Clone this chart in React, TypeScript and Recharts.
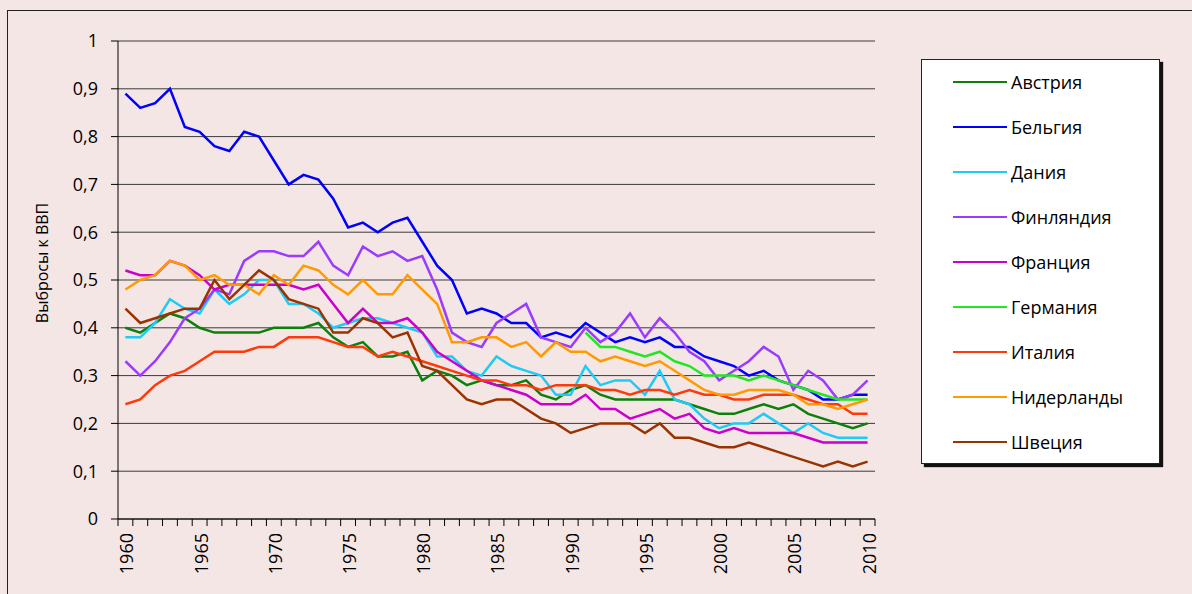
import React from 'react';
import { LineChart, Line, XAxis, YAxis, CartesianGrid, Legend } from 'recharts';

const years = [
  1960, 1961, 1962, 1963, 1964, 1965, 1966, 1967, 1968, 1969,
  1970, 1971, 1972, 1973, 1974, 1975, 1976, 1977, 1978, 1979,
  1980, 1981, 1982, 1983, 1984, 1985, 1986, 1987, 1988, 1989,
  1990, 1991, 1992, 1993, 1994, 1995, 1996, 1997, 1998, 1999,
  2000, 2001, 2002, 2003, 2004, 2005, 2006, 2007, 2008, 2009, 2010,
];

const austria = [
  0.40, 0.39, 0.41, 0.43, 0.42, 0.40, 0.39, 0.39, 0.39, 0.39,
  0.40, 0.40, 0.40, 0.41, 0.38, 0.36, 0.37, 0.34, 0.34, 0.35,
  0.29, 0.31, 0.30, 0.28, 0.29, 0.28, 0.28, 0.29, 0.26, 0.25,
  0.27, 0.28, 0.26, 0.25, 0.25, 0.25, 0.25, 0.25, 0.24, 0.23,
  0.22, 0.22, 0.23, 0.24, 0.23, 0.24, 0.22, 0.21, 0.20, 0.19, 0.20,
];
const belgium = [
  0.89, 0.86, 0.87, 0.90, 0.82, 0.81, 0.78, 0.77, 0.81, 0.80,
  0.75, 0.70, 0.72, 0.71, 0.67, 0.61, 0.62, 0.60, 0.62, 0.63,
  0.58, 0.53, 0.50, 0.43, 0.44, 0.43, 0.41, 0.41, 0.38, 0.39,
  0.38, 0.41, 0.39, 0.37, 0.38, 0.37, 0.38, 0.36, 0.36, 0.34,
  0.33, 0.32, 0.30, 0.31, 0.29, 0.28, 0.27, 0.25, 0.25, 0.26, 0.26,
];
const denmark = [
  0.38, 0.38, 0.41, 0.46, 0.44, 0.43, 0.48, 0.45, 0.47, 0.50,
  0.50, 0.45, 0.45, 0.43, 0.40, 0.41, 0.42, 0.42, 0.41, 0.40,
  0.39, 0.34, 0.34, 0.31, 0.30, 0.34, 0.32, 0.31, 0.30, 0.26,
  0.26, 0.32, 0.28, 0.29, 0.29, 0.26, 0.31, 0.25, 0.24, 0.21,
  0.19, 0.20, 0.20, 0.22, 0.20, 0.18, 0.20, 0.18, 0.17, 0.17, 0.17,
];
const finland = [
  0.33, 0.30, 0.33, 0.37, 0.42, 0.44, 0.48, 0.47, 0.54, 0.56,
  0.56, 0.55, 0.55, 0.58, 0.53, 0.51, 0.57, 0.55, 0.56, 0.54,
  0.55, 0.48, 0.39, 0.37, 0.36, 0.41, 0.43, 0.45, 0.38, 0.37,
  0.36, 0.40, 0.37, 0.39, 0.43, 0.38, 0.42, 0.39, 0.35, 0.33,
  0.29, 0.31, 0.33, 0.36, 0.34, 0.27, 0.31, 0.29, 0.25, 0.26, 0.29,
];
const france = [
  0.52, 0.51, 0.51, 0.54, 0.53, 0.51, 0.48, 0.49, 0.49, 0.49,
  0.49, 0.49, 0.48, 0.49, 0.45, 0.41, 0.44, 0.41, 0.41, 0.42,
  0.39, 0.35, 0.33, 0.31, 0.29, 0.28, 0.27, 0.26, 0.24, 0.24,
  0.24, 0.26, 0.23, 0.23, 0.21, 0.22, 0.23, 0.21, 0.22, 0.19,
  0.18, 0.19, 0.18, 0.18, 0.18, 0.18, 0.17, 0.16, 0.16, 0.16, 0.16,
];
const germany = [
  null, null, null, null, null, null, null, null, null, null,
  null, null, null, null, null, null, null, null, null, null,
  null, null, null, null, null, null, null, null, null, null,
  null, 0.39, 0.36, 0.36, 0.35, 0.34, 0.35, 0.33, 0.32, 0.30,
  0.30, 0.30, 0.29, 0.30, 0.29, 0.28, 0.27, 0.26, 0.25, 0.25, 0.25,
];
const italy = [
  0.24, 0.25, 0.28, 0.30, 0.31, 0.33, 0.35, 0.35, 0.35, 0.36,
  0.36, 0.38, 0.38, 0.38, 0.37, 0.36, 0.36, 0.34, 0.35, 0.34,
  0.33, 0.32, 0.31, 0.30, 0.29, 0.29, 0.28, 0.28, 0.27, 0.28,
  0.28, 0.28, 0.27, 0.27, 0.26, 0.27, 0.27, 0.26, 0.27, 0.26,
  0.26, 0.25, 0.25, 0.26, 0.26, 0.26, 0.25, 0.24, 0.24, 0.22, 0.22,
];
const netherlands = [
  0.48, 0.50, 0.51, 0.54, 0.53, 0.50, 0.51, 0.49, 0.49, 0.47,
  0.51, 0.49, 0.53, 0.52, 0.49, 0.47, 0.50, 0.47, 0.47, 0.51,
  0.48, 0.45, 0.37, 0.37, 0.38, 0.38, 0.36, 0.37, 0.34, 0.37,
  0.35, 0.35, 0.33, 0.34, 0.33, 0.32, 0.33, 0.31, 0.29, 0.27,
  0.26, 0.26, 0.27, 0.27, 0.27, 0.26, 0.24, 0.24, 0.23, 0.24, 0.25,
];
const sweden = [
  0.44, 0.41, 0.42, 0.43, 0.44, 0.44, 0.50, 0.46, 0.49, 0.52,
  0.50, 0.46, 0.45, 0.44, 0.39, 0.39, 0.42, 0.41, 0.38, 0.39,
  0.32, 0.31, 0.28, 0.25, 0.24, 0.25, 0.25, 0.23, 0.21, 0.20,
  0.18, 0.19, 0.20, 0.20, 0.20, 0.18, 0.20, 0.17, 0.17, 0.16,
  0.15, 0.15, 0.16, 0.15, 0.14, 0.13, 0.12, 0.11, 0.12, 0.11, 0.12,
];

const yTicks = [0, 0.1, 0.2, 0.3, 0.4, 0.5, 0.6, 0.7, 0.8, 0.9, 1];

const series = [
  { key: 'austria', name: 'Австрия', color: '#0B800B', values: austria },
  { key: 'belgium', name: 'Бельгия', color: '#0000FF', values: belgium },
  { key: 'denmark', name: 'Дания', color: '#1ECBF5', values: denmark },
  { key: 'finland', name: 'Финляндия', color: '#9B3BFF', values: finland },
  { key: 'france', name: 'Франция', color: '#CC00CC', values: france },
  { key: 'germany', name: 'Германия', color: '#22E622', values: germany },
  { key: 'italy', name: 'Италия', color: '#FF3A0A', values: italy },
  { key: 'netherlands', name: 'Нидерланды', color: '#FF9A00', values: netherlands },
  { key: 'sweden', name: 'Швеция', color: '#993300', values: sweden },
];

const data = years.map((year, i) => {
  const row: Record<string, number | null> = { year };
  series.forEach((s) => {
    row[s.key] = s.values[i];
  });
  return row;
});

const FONT = '"Open Sans", "Noto Sans", "DejaVu Sans", sans-serif';
const W = 1192;
const H = 594;
const PLOT_LEFT = 118;
const PLOT_RIGHT = 875;
const HALF_BAND = (PLOT_RIGHT - PLOT_LEFT) / years.length / 2;

const YearTick = (props: any) => {
  const { x, y, payload, index } = props;
  const year = Number(payload.value);
  const isLast = index === years.length - 1;
  return (
    <g>
      <line x1={x - HALF_BAND} x2={x - HALF_BAND} y1={y} y2={y + 7} stroke="#000" strokeWidth={1} />
      {isLast && (
        <line x1={x + HALF_BAND} x2={x + HALF_BAND} y1={y} y2={y + 7} stroke="#000" strokeWidth={1} />
      )}
      {year % 5 === 0 && (
        <text
          transform={`translate(${x + 1.5},${y + 14}) rotate(-90)`}
          textAnchor="end"
          dy="0.36em"
          fontFamily={FONT}
          fontSize={18}
          fill="#000"
        >
          {String(year)}
        </text>
      )}
    </g>
  );
};

const renderLegend = () => (
  <div
    style={{
      position: 'relative',
      width: 239,
      height: 405,
      boxSizing: 'border-box',
      background: '#fff',
      border: '1px solid #222',
      boxShadow: '3px 3px 1px #111',
      fontFamily: FONT,
      fontSize: 18,
      color: '#000',
    }}
  >
    {series.map((s, i) => (
      <div
        key={s.key}
        style={{
          position: 'absolute',
          left: 31,
          top: 22 + 45 * i - 13,
          height: 26,
          display: 'flex',
          alignItems: 'center',
          whiteSpace: 'nowrap',
        }}
      >
        <div style={{ width: 54, height: 2.5, background: s.color }} />
        <span style={{ marginLeft: 4, lineHeight: '26px' }}>{s.name}</span>
      </div>
    ))}
  </div>
);

const fmt = (v: number) => (v === 0 ? '0' : v === 1 ? '1' : v.toFixed(1).replace('.', ','));

export default function App() {
  return (
    <div
      style={{
        position: 'absolute',
        left: 0,
        top: 0,
        width: W,
        height: H,
        background: '#F5E6E6',
        overflow: 'hidden',
      }}
    >
      <div
        style={{
          position: 'absolute',
          left: 7,
          top: 10,
          width: 1220,
          height: 640,
          border: '1px solid #222',
          boxSizing: 'border-box',
        }}
      />
      <div style={{ position: 'absolute', left: 0, top: 0 }}>
        <LineChart
          width={W}
          height={H}
          data={data}
          margin={{ top: 41, right: W - PLOT_RIGHT, bottom: 15, left: 38 }}
        >
          <CartesianGrid horizontal vertical={false} stroke="#3a3a3a" strokeWidth={1} />
          <XAxis
            dataKey="year"
            type="category"
            interval={0}
            height={60}
            tickLine={false}
            tickSize={0}
            tickMargin={0}
            axisLine={{ stroke: '#000', strokeWidth: 1 }}
            padding={{ left: HALF_BAND, right: HALF_BAND }}
            tick={<YearTick />}
          />
          <YAxis
            type="number"
            domain={[0, 1]}
            ticks={yTicks}
            interval={0}
            width={80}
            tickSize={7}
            tickMargin={13}
            tickFormatter={fmt}
            axisLine={{ stroke: '#000', strokeWidth: 1 }}
            tickLine={{ stroke: '#000', strokeWidth: 1 }}
            tick={{ fontFamily: FONT, fontSize: 18, fill: '#000' }}
            label={{
              content: () => (
                <text
                  transform="translate(42,263) rotate(-90)"
                  textAnchor="middle"
                  dy="0.35em"
                  fontFamily={FONT}
                  fontSize={16}
                  fill="#000"
                >
                  Выбросы к ВВП
                </text>
              ),
            }}
          />
          <Legend
            layout="vertical"
            align="center"
            verticalAlign="middle"
            content={renderLegend}
            wrapperStyle={{ left: 921, top: 59, width: 239, height: 405 }}
          />
          {series.map((s) => (
            <Line
              key={s.key}
              type="linear"
              dataKey={s.key}
              name={s.name}
              stroke={s.color}
              strokeWidth={2.5}
              dot={false}
              activeDot={false}
              connectNulls={false}
              isAnimationActive={false}
            />
          ))}
        </LineChart>
      </div>
    </div>
  );
}
